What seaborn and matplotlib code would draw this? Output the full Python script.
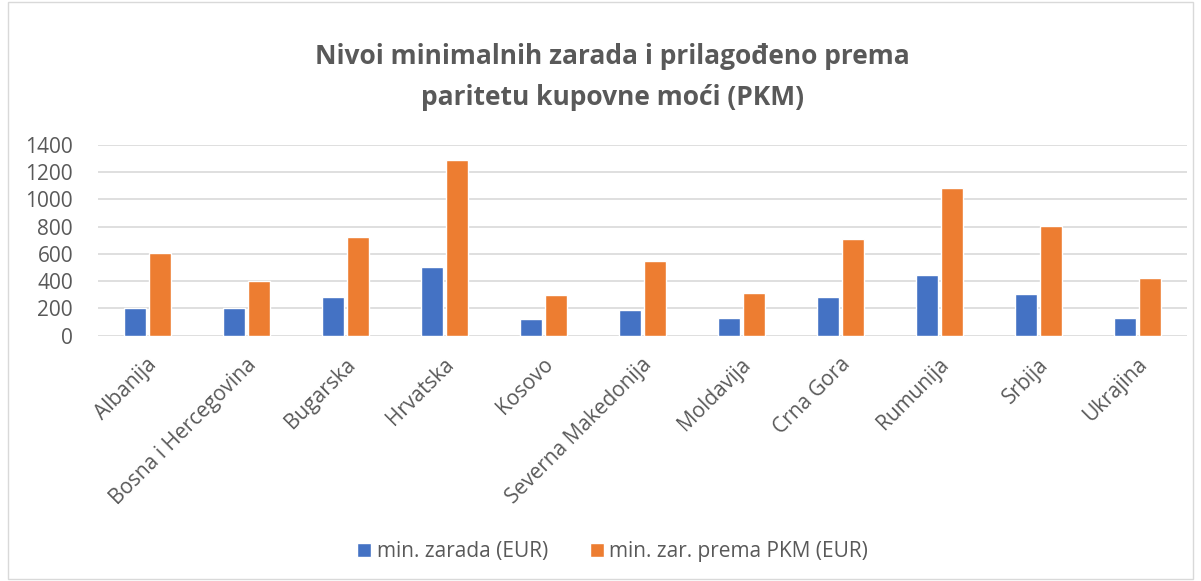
import matplotlib
matplotlib.use("Agg")
import matplotlib.pyplot as plt
import matplotlib.transforms as mtransforms
import seaborn as sns
import pandas as pd
from matplotlib.patches import Rectangle

countries = ["Albanija", "Bosna i Hercegovina", "Bugarska", "Hrvatska", "Kosovo",
             "Severna Makedonija", "Moldavija", "Crna Gora", "Rumunija", "Srbija", "Ukrajina"]
min_zarada = [201, 203, 282, 502, 126, 192, 128, 284, 445, 304, 128]
min_zar_pkm = [604, 404, 726, 1286, 296, 549, 313, 712, 1082, 801, 423]
series_names = ["min. zarada (EUR)", "min. zar. prema PKM (EUR)"]
yticks = [0, 200, 400, 600, 800, 1000, 1200, 1400]

df = pd.DataFrame({
    "country": countries * 2,
    "value": min_zarada + min_zar_pkm,
    "series": [series_names[0]] * len(countries) + [series_names[1]] * len(countries),
})

sns.set_theme(style="white")
plt.rcParams['font.family'] = ['Open Sans', 'DejaVu Sans']

fig = plt.figure(figsize=(12.01, 5.81), dpi=100)
ax = fig.add_axes([0.0816, 0.4222, 0.9067, 0.3287])

palette = {series_names[0]: "#4472C4", series_names[1]: "#ED7D31"}
sns.barplot(data=df, x="country", y="value", hue="series", palette=palette,
            width=0.505, gap=0.12, ax=ax, legend=True, saturation=1)

ax.set_ylim(0, 1400)
ax.set_yticks(yticks)
ax.set_xlim(-0.5, len(countries) - 0.5)
ax.yaxis.grid(True, color="#D9D9D9", linewidth=1.2)
ax.set_axisbelow(True)
for s in ax.spines.values():
    s.set_visible(False)
ax.set_xlabel("")
ax.set_ylabel("")
ax.tick_params(axis="y", labelsize=15, colors="#595959", length=0, pad=18)
ax.tick_params(axis="x", labelsize=15, colors="#595959", length=0, pad=2)
offset = mtransforms.ScaledTranslation(0.065, -0.23, fig.dpi_scale_trans)
for lab in ax.get_xticklabels():
    lab.set_rotation(45)
    lab.set_ha("right")
    lab.set_va("center")
    lab.set_rotation_mode("anchor")
    lab.set_transform(lab.get_transform() + offset)

handles, labels = ax.get_legend_handles_labels()
ax.legend_.remove()
fig.legend(handles, labels, loc="center", bbox_to_anchor=(0.51, 0.05), ncol=2,
           frameon=False, fontsize=15, labelcolor="#595959",
           handlelength=0.7, handleheight=0.7, handletextpad=0.25, columnspacing=2.0)

fig.text(0.51, 0.903, "Nivoi minimalnih zarada i prilagođeno prema", ha="center", va="center",
         fontsize=19, fontweight="bold", color="#595959")
fig.text(0.51, 0.832, "paritetu kupovne moći (PKM)", ha="center", va="center",
         fontsize=19, fontweight="bold", color="#595959")

fig.patches.append(Rectangle((0.007, 0.003), 0.986, 0.994, transform=fig.transFigure,
                             fill=False, edgecolor="#D9D9D9", linewidth=1))

fig.savefig("out.png", dpi=100)
